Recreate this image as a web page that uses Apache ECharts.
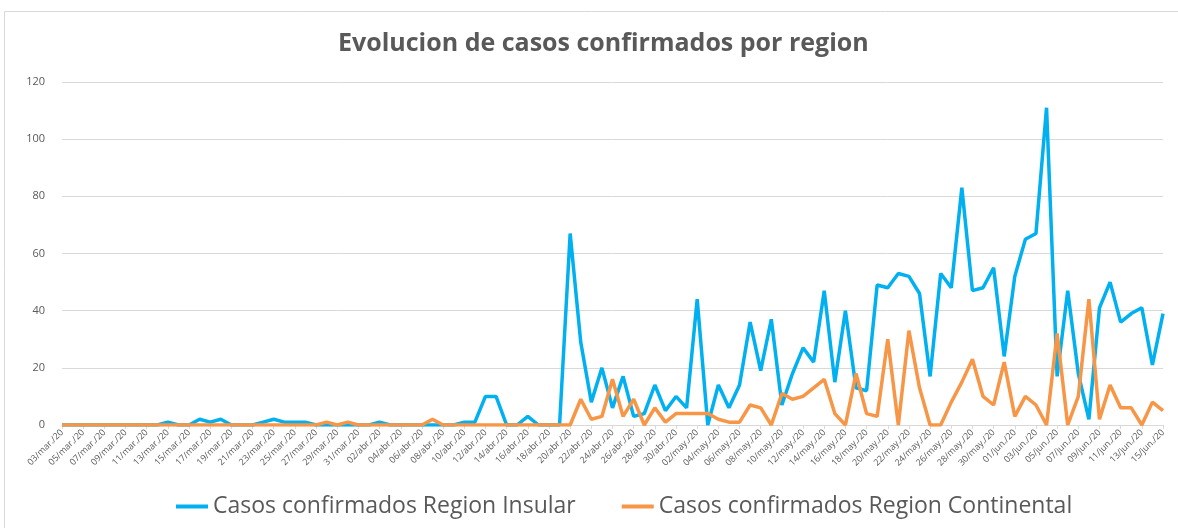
<!DOCTYPE html>
<html>
<head>
<meta charset="utf-8">
<script src="https://cdn.jsdelivr.net/npm/echarts@6/dist/echarts.min.js"></script>
<style>
  html, body { margin: 0; padding: 0; background: #fff; }
  #chart { width: 1178px; height: 528px; }
</style>
</head>
<body>
<div id="chart"></div>
<script>
// meses del periodo 03/mar/20 - 15/jun/20
var monthNames = ['mar', 'abr', 'may', 'jun'];
var monthFirstDay = [3, 1, 1, 1];
var monthLastDay = [31, 30, 31, 15];

var insular = [
  0, 0, 0, 0, 0, 0, 0, 0, 0, 0,
  1, 0, 0, 2, 1, 2, 0, 0, 0, 1,
  2, 1, 1, 1, 0, 0, 0, 0, 0, 0,
  1, 0, 0, 0, 0, 0, 0, 0, 1, 1,
  10, 10, 0, 0, 3, 0, 0, 0, 67, 29,
  8, 20, 6, 17, 3, 4, 14, 5, 10, 6,
  44, 0, 14, 6, 14, 36, 19, 37, 7, 18,
  27, 22, 47, 15, 40, 13, 12, 49, 48, 53,
  52, 46, 17, 53, 48, 83, 47, 48, 55, 24,
  52, 65, 67, 111, 17, 47, 18, 2, 41, 50,
  36, 39, 41, 21, 39
];

var continental = [
  0, 0, 0, 0, 0, 0, 0, 0, 0, 0,
  0, 0, 0, 0, 0, 0, 0, 0, 0, 0,
  0, 0, 0, 0, 0, 1, 0, 1, 0, 0,
  0, 0, 0, 0, 0, 2, 0, 0, 0, 0,
  0, 0, 0, 0, 0, 0, 0, 0, 0, 9,
  2, 3, 16, 3, 9, 0, 6, 1, 4, 4,
  4, 4, 2, 1, 1, 7, 6, 0, 11, 9,
  10, 13, 16, 4, 0, 18, 4, 3, 30, 0,
  33, 13, 0, 0, 8, 15, 23, 10, 7, 22,
  3, 10, 7, 0, 32, 0, 10, 44, 2, 14,
  6, 6, 0, 8, 5
];

var fechas = [];
for (var m = 0; m < monthNames.length; m++) {
  for (var d = monthFirstDay[m]; d <= monthLastDay[m]; d++) {
    fechas.push((d < 10 ? '0' + d : '' + d) + '/' + monthNames[m] + './20');
  }
}

var font = '"Open Sans", "Liberation Sans", sans-serif';
var textGray = '#595959';

var chart = echarts.init(document.getElementById('chart'));
chart.setOption({
  animation: false,
  color: ['#00b0f0', '#f79646'],
  textStyle: { fontFamily: font },
  graphic: [{
    type: 'rect',
    shape: { x: 4.5, y: 11.5, width: 1200, height: 600 },
    style: { fill: 'none', stroke: '#d9d9d9', lineWidth: 1 },
    silent: true
  }],
  title: {
    text: 'Evolucion de casos confirmados por region',
    left: 333,
    top: 26,
    textStyle: { fontFamily: font, fontSize: 25, fontWeight: 'bold', color: textGray }
  },
  legend: {
    bottom: 5,
    left: 171,
    icon: 'rect',
    itemWidth: 32,
    itemHeight: 4,
    itemGap: 46,
    textStyle: { fontFamily: font, fontSize: 23, color: textGray },
    data: ['Casos confirmados Region Insular', 'Casos confirmados Region Continental']
  },
  grid: {
    left: 62,
    right: 15,
    top: 82,
    bottom: 103,
    containLabel: false
  },
  xAxis: {
    type: 'category',
    boundaryGap: false,
    data: fechas,
    axisLine: { lineStyle: { color: '#d9d9d9', width: 1 } },
    axisTick: { show: true, interval: 1, length: 4, lineStyle: { color: '#d9d9d9' } },
    axisLabel: {
      interval: 1,
      rotate: 45,
      fontSize: 9,
      color: textGray,
      margin: 6
    },
    splitLine: { show: false }
  },
  yAxis: {
    type: 'value',
    min: 0,
    max: 120,
    interval: 20,
    axisLine: { show: false },
    axisTick: { show: false },
    axisLabel: { fontSize: 11, color: textGray, margin: 17 },
    splitLine: { lineStyle: { color: '#d9d9d9', width: 1 } }
  },
  series: [{
    name: 'Casos confirmados Region Insular',
    type: 'line',
    symbol: 'none',
    lineStyle: { width: 3.5 },
    data: insular
  }, {
    name: 'Casos confirmados Region Continental',
    type: 'line',
    symbol: 'none',
    lineStyle: { width: 3.5 },
    data: continental
  }]
});
</script>
</body>
</html>
